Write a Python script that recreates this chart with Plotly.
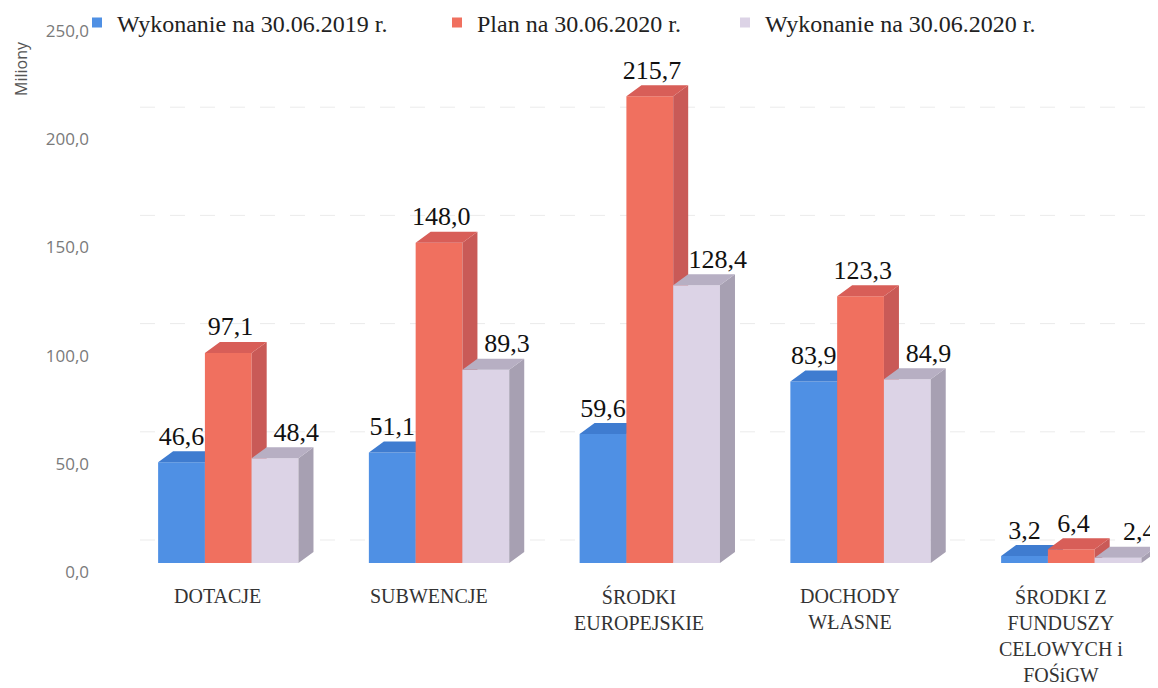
import plotly.graph_objects as go

# ---------------- data ----------------
categories = ["DOTACJE", "SUBWENCJE", "ŚRODKI<br>EUROPEJSKIE", "DOCHODY<br>WŁASNE",
              "ŚRODKI Z<br>FUNDUSZY<br>CELOWYCH i<br>FOŚiGW"]
series_names = ["Wykonanie na 30.06.2019 r.", "Plan na 30.06.2020 r.", "Wykonanie na 30.06.2020 r."]
wyk_2019 = [46.6, 51.1, 59.6, 83.9, 3.2]
plan_2020 = [97.1, 148.0, 215.7, 123.3, 6.4]
wyk_2020 = [48.4, 89.3, 128.4, 84.9, 2.4]
y_ticks = [0, 50, 100, 150, 200, 250]

# ---------------- style ----------------
# the page body adds an 8px margin, so the figure is 1150x680
W, H = 1150, 680
L_M, R_M, T_M, B_M = 92, 0, 14, 125
px_per_cat = 210.75
first_center_px = 220.3
x0 = (L_M - first_center_px) / px_per_cat
x1 = (W - R_M - first_center_px) / px_per_cat
y_px_per_unit = (H - T_M - B_M) / 250.0

bar_w = 0.222          # width of one bar (category units)
depth_dx = 15 / px_per_cat
depth_dy = 11 / y_px_per_unit
grid_back = 23 / y_px_per_unit

front_cols = ["#4f90e4", "#f0705f", "#dcd3e6"]
side_cols = ["#3a70c0", "#c95a57", "#a7a0b2"]
top_cols = ["#3f7cd0", "#d85e58", "#b7afc3"]
label_dx = [0.0, 0.01, 0.10]

values = [wyk_2019, plan_2020, wyk_2020]

fig = go.Figure()


def poly_trace(xs, ys, color):
    return go.Scatter(x=xs, y=ys, mode="lines", fill="toself", fillcolor=color,
                      line=dict(width=0, color=color), hoverinfo="skip", showlegend=False)


for s, vals in enumerate(values):
    fx, fy, sx, sy, tx, ty = [], [], [], [], [], []
    for i, v in enumerate(vals):
        c = i + (s - 1) * bar_w
        a, b = c - bar_w / 2, c + bar_w / 2
        fx += [a, b, b, a, a, None]
        fy += [0, 0, v, v, 0, None]
        sx += [b, b + depth_dx, b + depth_dx, b, b, None]
        sy += [0, depth_dy, v + depth_dy, v, 0, None]
        tx += [a, b, b + depth_dx, a + depth_dx, a, None]
        ty += [v, v, v + depth_dy, v + depth_dy, v, None]
    fig.add_trace(poly_trace(fx, fy, front_cols[s]))
    fig.add_trace(poly_trace(sx, sy, side_cols[s]))
    fig.add_trace(poly_trace(tx, ty, top_cols[s]))

# data labels
for s, vals in enumerate(values):
    xs = [i + (s - 1) * bar_w + label_dx[s] for i in range(len(vals))]
    ys = [v + depth_dy for v in vals]
    fig.add_trace(go.Scatter(
        x=xs, y=ys, mode="text", text=[f"{v:.1f}".replace(".", ",") for v in vals],
        textposition="top center", cliponaxis=False, hoverinfo="skip", showlegend=False,
        textfont=dict(family="Liberation Serif", size=26, color="#111111")))

# legend entries (three separate legends for exact placement)
legend_keys = ["legend", "legend2", "legend3"]
legend_px = [69, 429, 717]
for s, name in enumerate(series_names):
    fig.add_trace(go.Scatter(x=[None], y=[None], mode="markers", name=name,
                             marker=dict(symbol="square", size=10, color=front_cols[s]),
                             legend=legend_keys[s], showlegend=True))

legend_common = dict(orientation="h", xref="container", yref="container",
                     xanchor="left", yanchor="middle", y=1 - 15 / H,
                     bgcolor="rgba(0,0,0,0)",
                     font=dict(family="Liberation Serif", size=24, color="#222222"))

# faint back-wall gridlines
shapes = []
for t in y_ticks[:-1]:
    shapes.append(dict(type="line", xref="x", yref="y",
                       x0=(132 - first_center_px) / px_per_cat, x1=x1,
                       y0=t + grid_back, y1=t + grid_back,
                       line=dict(color="#ebebeb", width=1, dash="longdash"), layer="below"))

annotations = []
for i, cat in enumerate(categories):
    annotations.append(dict(x=i - 0.05, y=0, xref="x", yref="paper", text=cat,
                            showarrow=False, yanchor="top", yshift=-21, align="center",
                            borderpad=0,
                            font=dict(family="Liberation Serif", size=20, color="#333333")))
annotations.append(dict(x=(13 - L_M) / (W - L_M - R_M), y=(H - B_M - 61) / (H - T_M - B_M),
                        xref="paper", yref="paper", text="Miliony", textangle=-90,
                        showarrow=False, xanchor="center", yanchor="middle", borderpad=0,
                        font=dict(family="Open Sans", size=16, color="#555555")))

fig.update_layout(
    width=W, height=H,
    margin=dict(l=L_M, r=R_M, t=T_M, b=B_M, autoexpand=False),
    paper_bgcolor="white", plot_bgcolor="white",
    separators=", ",
    legend=dict(x=legend_px[0] / W, **legend_common),
    legend2=dict(x=legend_px[1] / W, **legend_common),
    legend3=dict(x=legend_px[2] / W, **legend_common),
    xaxis=dict(range=[x0, x1], showgrid=False, zeroline=False, showline=False,
               showticklabels=False, fixedrange=True),
    yaxis=dict(range=[0, 250], tickvals=y_ticks, tickformat=".1f", showgrid=False,
               zeroline=False, showline=False, ticklabelstandoff=10, ticklabelshift=9,
               tickfont=dict(family="Open Sans", size=17, color="#7a7a7a"), fixedrange=True),
    shapes=shapes,
    annotations=annotations,
)

fig.write_html("out.html")
